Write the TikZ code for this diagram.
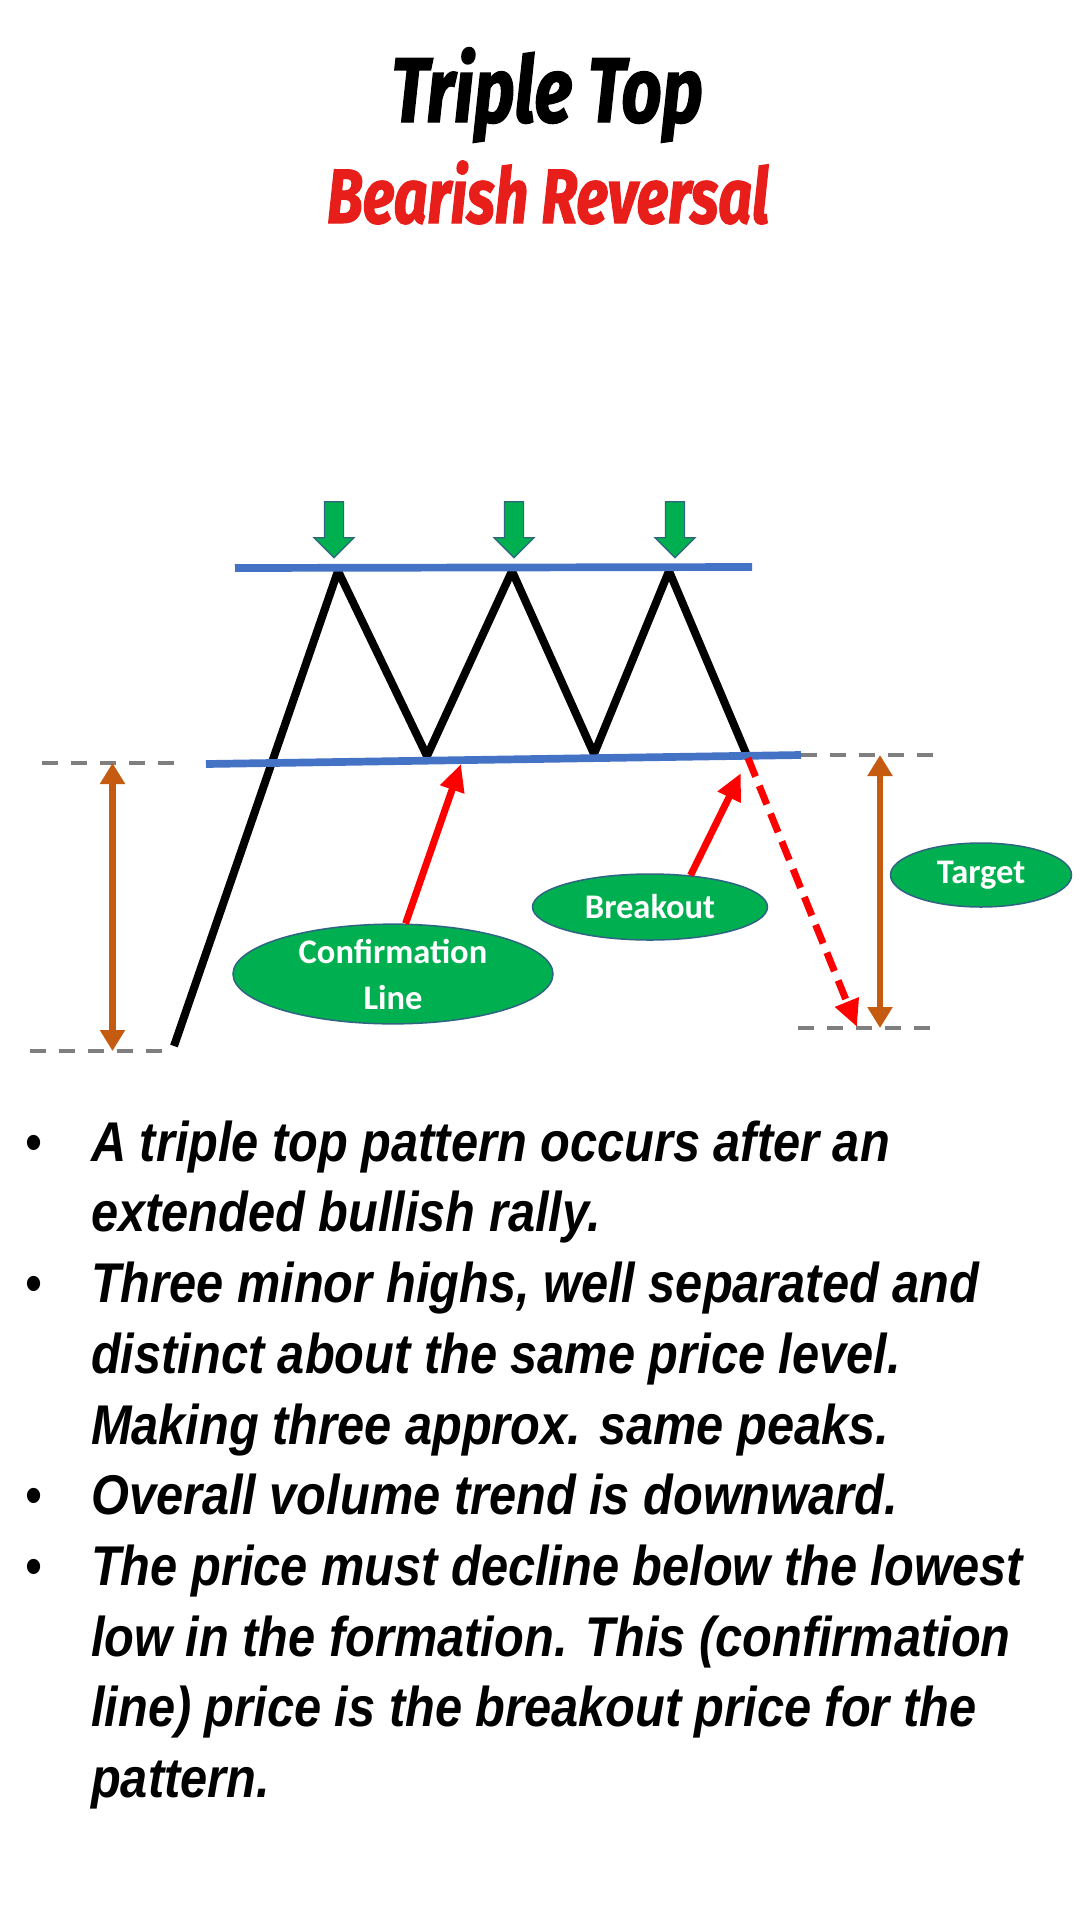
\documentclass[tikz,border=0pt]{standalone}
\usepackage{fontspec}
\setmainfont{Liberation Sans}[FakeStretch=0.87]
\newfontfamily\titlefont{Fira Sans}[FakeStretch=0.765,FakeBold=1.6]
\newfontfamily\calloutfont{Carlito}
\usetikzlibrary{arrows.meta,shapes.geometric,shapes.arrows}
\definecolor{pptgreen}{RGB}{0,176,80}
\definecolor{pptblue}{RGB}{68,114,196}
\definecolor{pptorange}{RGB}{197,90,17}
\definecolor{pptoutline}{RGB}{47,100,130}
\definecolor{titlered}{RGB}{232,30,26}
\definecolor{dashgray}{RGB}{127,127,127}

\begin{document}
\begin{tikzpicture}[x=1pt,y=-1pt,
    price/.style={line width=8pt,line join=bevel},
    level/.style={line width=7.7pt,draw=pptblue},
    guide/.style={line width=4pt,draw=dashgray,dash pattern=on 16pt off 13pt},
    height/.style={line width=6.5pt,draw=pptorange,{Triangle[width=24pt,length=21pt]}-{Triangle[width=24pt,length=21pt]}},
    pointer/.style={line width=7pt,draw=red,-{Triangle[width=24pt,length=27pt]}},
    callout/.style={ellipse,fill=pptgreen,draw=pptoutline,line width=1.5pt,inner sep=0pt,
      text=white,font=\calloutfont\bfseries\fontsize{34.5}{46}\selectfont,align=center},
    peak arrow/.style={single arrow,shape border rotate=270,fill=pptgreen,draw=pptoutline,
      line width=1.2pt,minimum height=56pt,minimum width=39pt,inner xsep=9pt,inner ysep=0pt,
      single arrow head extend=10.5pt,single arrow tip angle=90},
    heading/.style={anchor=base,inner sep=0pt,font=\titlefont\bfseries\itshape\fontsize{#1}{#1}\selectfont},
    bullet text/.style={anchor=base west,inner sep=0pt,font=\fontsize{56}{70}\selectfont\bfseries\itshape},
    dot/.style={anchor=base,inner sep=0pt,font=\fontsize{56}{70}\selectfont}]
  \path[fill=white] (0,0) rectangle (1080,1920);
  \useasboundingbox (0,0) rectangle (1080,1920);

  %title%
  \node[heading=92] (title) at (547,122) {Triple Top};
  \node[heading=77,text=titlered] (subtitle) at (548,223) {Bearish Reversal};

  %pattern%
  \coordinate (start) at (174,1046);
  \coordinate (top1) at (338,571);
  \coordinate (low1) at (427,756);
  \coordinate (top2) at (512,571);
  \coordinate (low2) at (594,754);
  \coordinate (top3) at (669,571);
  \coordinate (break) at (748,758);
  \draw[price] (start) -- (top1) -- (low1) -- (top2) -- (low2) -- (top3) -- (break);

  \coordinate (res a) at (235,568);
  \coordinate (res b) at (752,567);
  \coordinate (sup a) at (206,764);
  \coordinate (sup b) at (801,755);
  \draw[level] (res a) -- (res b);
  \draw[level] (sup a) -- (sup b);

  \node[peak arrow] (arrow1) at (334,525) {};
  \node[peak arrow] (arrow2) at (514,525) {};
  \node[peak arrow] (arrow3) at (675,525) {};

  %heights%
  \coordinate (lt a) at (42,763);
  \coordinate (lt b) at (175,763);
  \coordinate (lb a) at (30,1051);
  \coordinate (lb b) at (162,1051);
  \coordinate (rt a) at (801,755);
  \coordinate (rt b) at (934,755);
  \coordinate (rb a) at (798,1028);
  \coordinate (rb b) at (930,1028);
  \draw[guide] (lt a) -- (lt b);
  \draw[guide] (lb a) -- (lb b);
  \draw[guide] (rt a) -- (rt b);
  \draw[guide] (rb a) -- (rb b);

  \coordinate (left top) at (112.5,763);
  \coordinate (left bottom) at (112.5,1051);
  \coordinate (right top) at (880,755);
  \coordinate (right bottom) at (880,1028);
  \draw[height] (left top) -- (left bottom);
  \draw[height] (right top) -- (right bottom);

  %callouts%
  \node[callout,minimum width=320pt,minimum height=90pt] (confirm) at (393,974) {Confirmation\\Line};
  \node[callout,minimum width=235pt,minimum height=66pt] (breakout) at (650,907) {Breakout};
  \node[callout,minimum width=181pt,minimum height=64pt] (target) at (981,875) {Target};

  \coordinate (confirm tip) at (461,764);
  \coordinate (breakout tip) at (741,773);
  \coordinate (target tip) at (857,1027);
  \draw[pointer] (confirm.76) -- (confirm tip);
  \draw[pointer] (breakout.38) -- (breakout tip);
  \draw[pointer,dash pattern=on 20pt off 10pt] (break) -- (target tip);

  %notes%
  \node[dot] (dot1) at (34.5,1161) {•};
  \node[dot] (dot2) at (34.5,1302) {•};
  \node[dot] (dot3) at (34.5,1514) {•};
  \node[dot] (dot4) at (34.5,1585) {•};
  \node[bullet text] (line1) at (91,1161) {A triple top pattern occurs after an};
  \node[bullet text] (line2) at (91,1231) {extended bullish rally.};
  \node[bullet text] (line3) at (91,1302) {Three minor highs, well separated and};
  \node[bullet text] (line4) at (91,1373) {distinct about the same price level.};
  \node[bullet text] (line5) at (91,1444) {Making three approx. same peaks.};
  \node[bullet text] (line6) at (91,1514) {Overall volume trend is downward.};
  \node[bullet text] (line7) at (91,1585) {The price must decline below the lowest};
  \node[bullet text] (line8) at (91,1656) {low in the formation. This (confirmation};
  \node[bullet text] (line9) at (91,1726) {line) price is the breakout price for the};
  \node[bullet text] (line10) at (91,1797) {pattern.};
\end{tikzpicture}
\end{document}
